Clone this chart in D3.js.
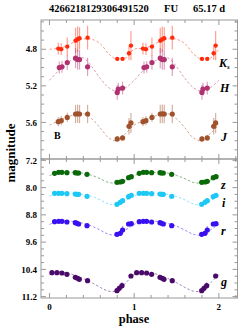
<!DOCTYPE html>
<html><head><meta charset="utf-8">
<script src="https://cdn.jsdelivr.net/npm/d3@7"></script>
<style>body{margin:0;background:#fff}svg{display:block}</style>
</head><body><svg id="c" width="249" height="332"></svg>
<script>
// ---------- data ----------
const titleParts = ["4266218129306491520", "FU", "65.17 d"];
const xTicksMajor = [0, 1, 2];
const yTicksTop = [4.8, 5.2, 5.6];
const yTicksBot = [7.2, 8.0, 8.8, 9.6, 10.4, 11.2];

// near-IR (top panel)
const phaseK = [0.104, 0.139, 0.210, 0.308, 0.332, 0.355, 0.450, 0.800, 0.863, 0.939, 0.962];
const magK   = [4.793, 4.799, 4.771, 4.706, 4.690, 4.679, 4.673, 4.905, 4.905, 4.843, 4.760];
const errK   = [0.065, 0.065, 0.10, 0.14, 0.14, 0.12, 0.13, 0.02, 0.02, 0.075, 0.16];
const phaseH = [0.116, 0.148, 0.210, 0.308, 0.332, 0.355, 0.450, 0.800, 0.812, 0.863];
const magH   = [5.000, 4.992, 4.945, 4.897, 4.913, 4.913, 4.992, 5.272, 5.235, 5.224];
const errH   = [0.065, 0.065, 0.08, 0.11, 0.11, 0.11, 0.10, 0.08, 0.07, 0.07];
const phaseJ = [0.104, 0.139, 0.210, 0.308, 0.332, 0.355, 0.450, 0.800, 0.863, 0.939, 0.962];
const magJ   = [5.592, 5.581, 5.545, 5.508, 5.505, 5.508, 5.508, 5.780, 5.769, 5.643, 5.606];
const errJ   = [0.05, 0.05, 0.05, 0.10, 0.10, 0.10, 0.10, 0.03, 0.03, 0.09, 0.11];

// optical (bottom panel)
const phaseZIR = [0.060, 0.108, 0.147, 0.206, 0.305, 0.325, 0.344, 0.443, 0.797, 0.836, 0.863, 0.934, 0.966];
const magZ = [7.580, 7.551, 7.551, 7.561, 7.561, 7.571, 7.571, 7.609, 7.844, 7.835, 7.815, 7.708, 7.679];
const errZ = [0.02, 0.02, 0.02, 0.02, 0.02, 0.02, 0.02, 0.02, 0.03, 0.03, 0.04, 0.04, 0.03];
const magI = [8.167, 8.167, 8.167, 8.178, 8.187, 8.196, 8.196, 8.255, 8.490, 8.431, 8.384, 8.266, 8.226];
const errI = [0.02, 0.02, 0.02, 0.02, 0.02, 0.02, 0.02, 0.02, 0.04, 0.08, 0.06, 0.04, 0.03];
const magR = [9.000, 8.989, 8.989, 9.009, 9.030, 9.047, 9.068, 9.118, 9.370, 9.341, 9.244, 9.068, 9.059];
const errR = [0.02, 0.02, 0.02, 0.02, 0.02, 0.02, 0.02, 0.02, 0.05, 0.08, 0.12, 0.04, 0.03];
const phaseG = [0.029, 0.088, 0.147, 0.206, 0.305, 0.332, 0.352, 0.450, 0.797, 0.824, 0.856, 0.962];
const magG   = [10.497, 10.497, 10.506, 10.544, 10.632, 10.661, 10.691, 10.732, 11.026, 10.955, 10.879, 10.594];
const errG   = [0.02, 0.02, 0.02, 0.02, 0.02, 0.02, 0.02, 0.02, 0.06, 0.10, 0.10, 0.04];

// fitted curves, read at phase 0,0.1,...,1
const curvePhase = [0, 0.1, 0.2, 0.3, 0.4, 0.5, 0.6, 0.7, 0.8, 0.9, 1.0];
const curveK = [4.80, 4.79, 4.765, 4.715, 4.687, 4.69, 4.74, 4.85, 4.915, 4.895, 4.80];
const curveH = [5.14, 5.04, 4.955, 4.905, 4.895, 4.99, 5.12, 5.22, 5.26, 5.22, 5.14];
const curveJ = [5.63, 5.585, 5.545, 5.515, 5.505, 5.56, 5.66, 5.77, 5.80, 5.72, 5.63];
const curveZ = [7.65, 7.57, 7.555, 7.555, 7.575, 7.64, 7.74, 7.85, 7.86, 7.78, 7.65];
const curveI = [8.25, 8.17, 8.16, 8.17, 8.20, 8.26, 8.36, 8.48, 8.51, 8.38, 8.25];
const curveR = [9.08, 8.99, 8.98, 9.00, 9.05, 9.13, 9.25, 9.37, 9.39, 9.24, 9.08];
const curveG = [10.55, 10.48, 10.50, 10.57, 10.67, 10.79, 10.93, 11.04, 11.03, 10.80, 10.55];

// ---------- drawing ----------
const svg = d3.select("#c");
const serif = "'Liberation Serif','DejaVu Serif',serif";
const x = d3.scaleLinear().domain([-0.1, 2.22]).range([41, 237.5]);
const yTop = d3.scaleLinear().domain([4.48, 6.0]).range([20, 159]);
const yBot = d3.scaleLinear().domain([7.16, 11.24]).range([159, 298]);
const frameCol = "#999";

function panel(y, majorTicks, minorStep, y0, y1) {
  const g = svg.append("g");
  // minor/major y ticks
  const lo = y.domain()[0], hi = y.domain()[1];
  const minors = d3.range(Math.ceil(lo / minorStep - 1e-6) * minorStep, hi + 1e-6, minorStep);
  minors.forEach(v => {
    const isMaj = majorTicks.some(m => Math.abs(m - v) < 1e-6);
    const L = isMaj ? 5 : 3;
    g.append("line").attr("x1", 41).attr("x2", 41 + L).attr("y1", y(v)).attr("y2", y(v)).attr("stroke", frameCol);
    g.append("line").attr("x1", 237.5).attr("x2", 237.5 - L).attr("y1", y(v)).attr("y2", y(v)).attr("stroke", frameCol);
  });
  // x ticks
  d3.range(0, 2.2001, 0.2).forEach(v => {
    const isMaj = Math.abs(v - Math.round(v)) < 1e-6;
    const L = isMaj ? 5 : 3;
    g.append("line").attr("x1", x(v)).attr("x2", x(v)).attr("y1", y0).attr("y2", y0 + L).attr("stroke", frameCol);
    g.append("line").attr("x1", x(v)).attr("x2", x(v)).attr("y1", y1).attr("y2", y1 - L).attr("stroke", frameCol);
  });
  g.append("rect").attr("x", 41).attr("y", y0).attr("width", 196.5).attr("height", y1 - y0)
    .attr("fill", "none").attr("stroke", frameCol).attr("stroke-width", 1);
  majorTicks.forEach(v => {
    g.append("text").attr("x", 37).attr("y", y(v)).attr("dy", "0.35em").attr("text-anchor", "end")
      .attr("font-family", serif).attr("font-weight", "bold").attr("font-size", 9).text(v.toFixed(1));
  });
}
panel(yTop, yTicksTop, 0.1, 20, 159);
panel(yBot, yTicksBot, 0.2, 159, 298);

xTicksMajor.forEach(v => {
  svg.append("text").attr("x", x(v)).attr("y", 310).attr("text-anchor", "middle")
    .attr("font-family", serif).attr("font-weight", "bold").attr("font-size", 9).text(v);
});

function band(y, ph, mag, err, cph, cmag, col, r) {
  const g = svg.append("g");
  const cdata = [];
  [0, 1].forEach(k => cph.forEach((p, i) => { if (!(k === 1 && i === 0)) cdata.push([p + k, cmag[i]]); }));
  g.append("path").datum(cdata)
    .attr("d", d3.line().x(d => x(d[0])).y(d => y(d[1])).curve(d3.curveCatmullRom))
    .attr("fill", "none").attr("stroke", col).attr("stroke-opacity", 0.55)
    .attr("stroke-width", 0.9).attr("stroke-dasharray", "2.5,2");
  const pts = [];
  [0, 1].forEach(k => ph.forEach((p, i) => pts.push({p: p + k, m: mag[i], e: err[i]})));
  g.selectAll(".e").data(pts).enter().append("line")
    .attr("x1", d => x(d.p)).attr("x2", d => x(d.p))
    .attr("y1", d => y(d.m - d.e)).attr("y2", d => y(d.m + d.e))
    .attr("stroke", col).attr("stroke-opacity", 0.45).attr("stroke-width", 1.2);
  g.selectAll(".d").data(pts).enter().append("circle")
    .attr("cx", d => x(d.p)).attr("cy", d => y(d.m)).attr("r", r).attr("fill", col);
}
band(yTop, phaseK, magK, errK, curvePhase, curveK, "#ff2a0a", 2.2);
band(yTop, phaseH, magH, errH, curvePhase, curveH, "#b03070", 2.6);
band(yTop, phaseJ, magJ, errJ, curvePhase, curveJ, "#a0522d", 2.6);
band(yBot, phaseZIR, magZ, errZ, curvePhase, curveZ, "#0a6a0a", 2.6);
band(yBot, phaseZIR, magI, errI, curvePhase, curveI, "#1ec8f5", 2.6);
band(yBot, phaseZIR, magR, errR, curvePhase, curveR, "#3a10f0", 2.6);
band(yBot, phaseG, magG, errG, curvePhase, curveG, "#4a0a6a", 2.6);

// band labels
function lab(txt, xx, yy, sub) {
  const t = svg.append("text").attr("x", xx).attr("y", yy).attr("font-family", serif)
    .attr("font-weight", "bold").attr("font-style", "italic").attr("font-size", 12).text(txt);
  if (sub) t.append("tspan").attr("font-size", 7).attr("dy", 2).text(sub);
}
lab("K", 219, 67, "s");
lab("H", 220, 92);
lab("J", 221, 141);
lab("z", 221, 189);
lab("i", 222, 207);
lab("r", 221, 235);
lab("g", 221, 286);

svg.append("text").attr("x", 54).attr("y", 139).attr("font-family", serif).attr("font-weight", "bold")
  .attr("font-size", 10).text("B");

// title
[[49, titleParts[0]], [164, titleParts[1]], [193, titleParts[2]]].forEach(([xx, t]) => {
  svg.append("text").attr("x", xx).attr("y", 12).attr("font-family", serif).attr("font-weight", "bold")
    .attr("font-size", 10.5).text(t);
});

svg.append("text").attr("x", 134).attr("y", 323).attr("text-anchor", "middle").attr("font-family", serif)
  .attr("font-weight", "bold").attr("font-size", 12.5).text("phase");
svg.append("text").attr("transform", "translate(15,153) rotate(-90)").attr("text-anchor", "middle")
  .attr("font-family", serif).attr("font-weight", "bold").attr("font-size", 13).text("magnitude");
</script></body></html>
